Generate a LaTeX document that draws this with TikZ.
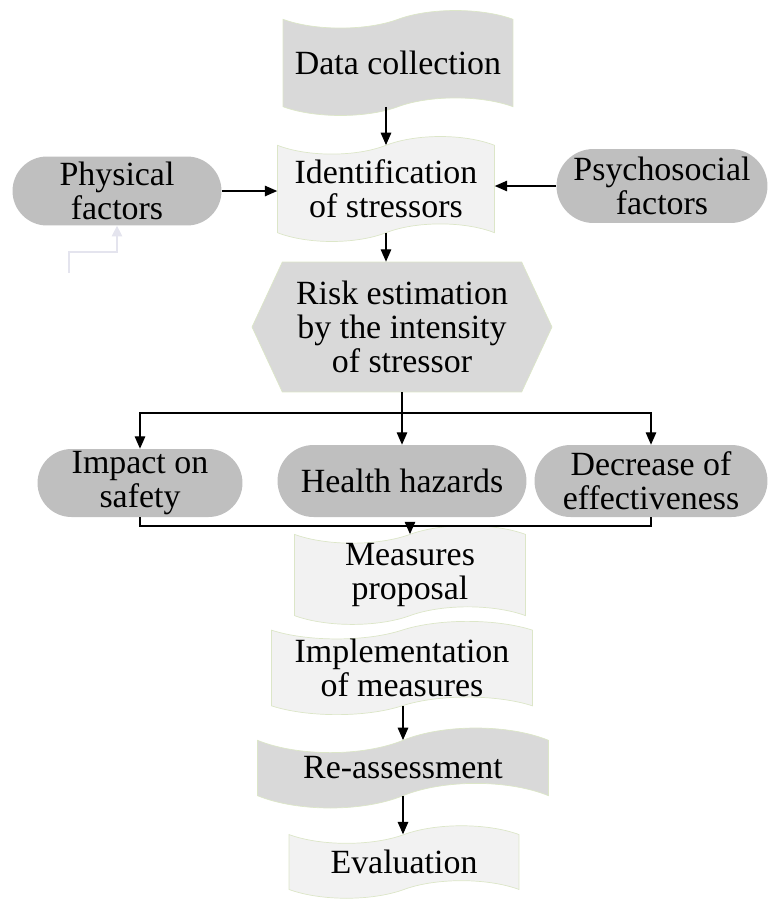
\documentclass[tikz,border=0pt]{standalone}
\usepackage{fontspec}
\setmainfont{Liberation Serif}
\usetikzlibrary{shapes.symbols,shapes.misc,arrows.meta}
\definecolor{darkfill}{HTML}{BFBFBF}
\definecolor{midfill}{HTML}{D9D9D9}
\definecolor{lightfill}{HTML}{F2F2F2}
\definecolor{edgegreen}{HTML}{DCE6C8}
\definecolor{ghostline}{HTML}{E4E4EE}

\begin{document}
\begin{tikzpicture}[x=0.02cm,y=-0.02cm,
  every node/.style={font=\fontsize{19.3}{19.5}\selectfont,align=center,inner sep=0pt},
  pill/.style={rounded rectangle,fill=darkfill},
  tapebox/.style={tape,draw=edgegreen,line width=0.4pt,tape bend height=10pt},
  arr/.style={-{Triangle[length=7pt,width=6pt]},line width=0.6pt}]
  \useasboundingbox (0,0) rectangle (769,900);
  % top part
  \node [tapebox,fill=midfill,minimum width=4.6cm,minimum height=2.1cm] (data) at (398,63) {Data collection};
  \node [tapebox,fill=lightfill,minimum width=4.34cm,minimum height=2.1cm] (ident) at (386,189) {Identification\\of stressors};
  \node [pill,minimum width=4.18cm,minimum height=1.38cm] (phys) at (117,191) {Physical\\factors};
  \node [pill,minimum width=4.22cm,minimum height=1.48cm] (psycho) at (662,186) {Psychosocial\\factors};
  \node [signal,signal to=west and east,signal pointer angle=130,fill=midfill,draw=edgegreen,
    minimum width=6cm,minimum height=2.6cm] (risk) at (402,327) {Risk estimation\\by the intensity\\of stressor};
  % consequences
  \node [pill,minimum width=4.1cm,minimum height=1.36cm] (impact) at (140,483) {Impact on\\safety};
  \node [pill,minimum width=4.98cm,minimum height=1.44cm] (health) at (402,481) {Health hazards};
  \node [pill,minimum width=4.66cm,minimum height=1.44cm] (decrease) at (651,481) {Decrease of\\effectiveness};
  % measures
  \node [tapebox,fill=lightfill,minimum width=4.62cm,minimum height=1.6cm] (measures) at (410,575) {Measures\\proposal};
  \node [tapebox,fill=lightfill,minimum width=5.22cm,minimum height=1.6cm] (impl) at (402,668) {Implementation\\of measures};
  \node [tapebox,fill=midfill,minimum width=5.82cm,minimum height=1.6cm,tape bend height=14pt] (reass) at (403,768) {Re-assessment};
  \node [tapebox,fill=lightfill,minimum width=4.6cm,minimum height=1.45cm] (eval) at (404,862) {Evaluation};
  \coordinate (split) at (402,413);
  \coordinate (join) at (410,526);
  \coordinate (ghost) at (69,273);
  \coordinate (ghostbend) at (117,252);
  % connectors
  \draw [arr] (ident.north |- data.south) -- (ident.north);
  \draw [arr] (phys.east) -- (phys.east -| ident.west);
  \draw [arr] (psycho.west) -- (psycho.west -| ident.east);
  \draw [arr] (ident.south) -- (ident.south |- risk.north);
  \draw [line width=0.6pt] (risk.south) -- (split);
  \draw [arr] (split) -| (impact.north);
  \draw [arr] (split) -- (health.north);
  \draw [arr] (split) -| (decrease.north);
  \draw [line width=0.6pt] (impact.south) |- (join) -| (decrease.south);
  \draw [arr] (join) -- (measures.north);
  \draw [arr] (impl.south -| reass.north) -- (reass.north);
  \draw [arr] (reass.south) -- (reass.south |- eval.north);
  \draw [ghostline,-{Triangle[length=6pt,width=6pt]},line width=0.6pt] (ghost) |- (ghostbend) -- (phys.south);
\end{tikzpicture}
\end{document}
